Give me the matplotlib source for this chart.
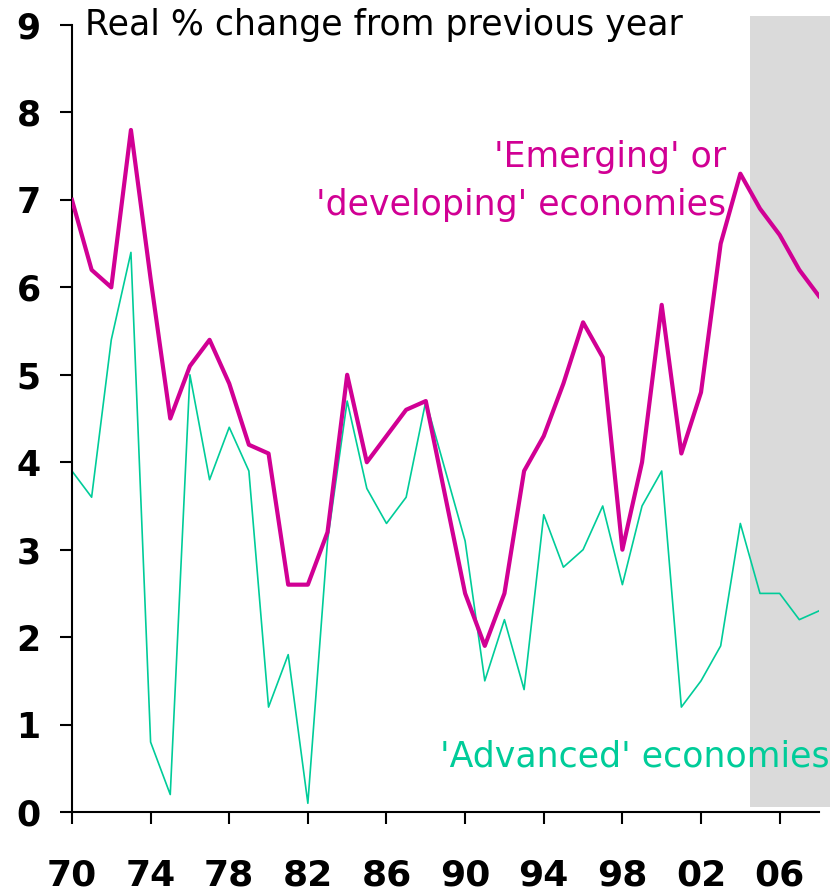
import matplotlib.pyplot as plt
import matplotlib.transforms as mtransforms
from matplotlib.patches import Rectangle

# Real GDP growth, % change from previous year
years = list(range(1970, 2009))
emerging = [7.0, 6.2, 6.0, 7.8, 6.1, 4.5, 5.1, 5.4, 4.9, 4.2,
            4.1, 2.6, 2.6, 3.2, 5.0, 4.0, 4.3, 4.6, 4.7, 3.6,
            2.5, 1.9, 2.5, 3.9, 4.3, 4.9, 5.6, 5.2, 3.0, 4.0,
            5.8, 4.1, 4.8, 6.5, 7.3, 6.9, 6.6, 6.2, 5.9]
advanced = [3.9, 3.6, 5.4, 6.4, 0.8, 0.2, 5.0, 3.8, 4.4, 3.9,
            1.2, 1.8, 0.1, 3.1, 4.7, 3.7, 3.3, 3.6, 4.7, 3.9,
            3.1, 1.5, 2.2, 1.4, 3.4, 2.8, 3.0, 3.5, 2.6, 3.5,
            3.9, 1.2, 1.5, 1.9, 3.3, 2.5, 2.5, 2.2, 2.3]
xtick_years = list(range(1970, 2007, 4))
xtick_labels = [f"{y % 100:02d}" for y in xtick_years]
forecast_start = 2004.5

MAGENTA = '#D10094'
GREEN = '#00CC99'

fig = plt.figure(figsize=(8.3, 8.94), dpi=100)
ax = fig.add_axes([0.0867, 0.0917, 0.9, 0.8803])

# shaded forecast period
ax.add_patch(Rectangle((forecast_start, 0.06), 4.1, 9.04, facecolor='#DADADA',
                       edgecolor='none', clip_on=False, zorder=0))

ax.plot(years, advanced, color=GREEN, lw=1.2, zorder=2)
ax.plot(years, emerging, color=MAGENTA, lw=3.0, zorder=3)

ax.set_xlim(1970, 2008)
ax.set_ylim(0, 9)
ax.set_xticks(xtick_years)
ax.set_xticklabels([])
ax.set_yticks(range(0, 10))
for side in ['top', 'right']:
    ax.spines[side].set_visible(False)
for side in ['left', 'bottom']:
    ax.spines[side].set_linewidth(1.5)
ax.tick_params(axis='both', direction='out', length=8.5, width=1.5)
ax.tick_params(axis='y', pad=14, labelsize=25)
for lbl in ax.get_yticklabels():
    lbl.set_fontweight('bold')

# year labels placed on a shared baseline below the axis
xlab_trans = mtransforms.blended_transform_factory(ax.transData, fig.transFigure)
for yr, lab in zip(xtick_years, xtick_labels):
    ax.text(yr, 0.0095, lab, transform=xlab_trans, fontsize=26,
            fontweight='bold', ha='center', va='baseline', clip_on=False)

ax.text(0.018, 1.0, 'Real % change from previous year', transform=ax.transAxes,
        fontsize=25, color='black', ha='left', va='center')
ax.text(2003.3, 7.49, "'Emerging' or", color=MAGENTA,
        fontsize=25, ha='right', va='center')
ax.text(2003.3, 6.94, "'developing' economies", color=MAGENTA,
        fontsize=25, ha='right', va='center')
ax.text(2008.55, 0.63, "'Advanced' economies", color=GREEN, fontsize=25,
        ha='right', va='center', clip_on=False)

fig.savefig('out.png', dpi=100)
